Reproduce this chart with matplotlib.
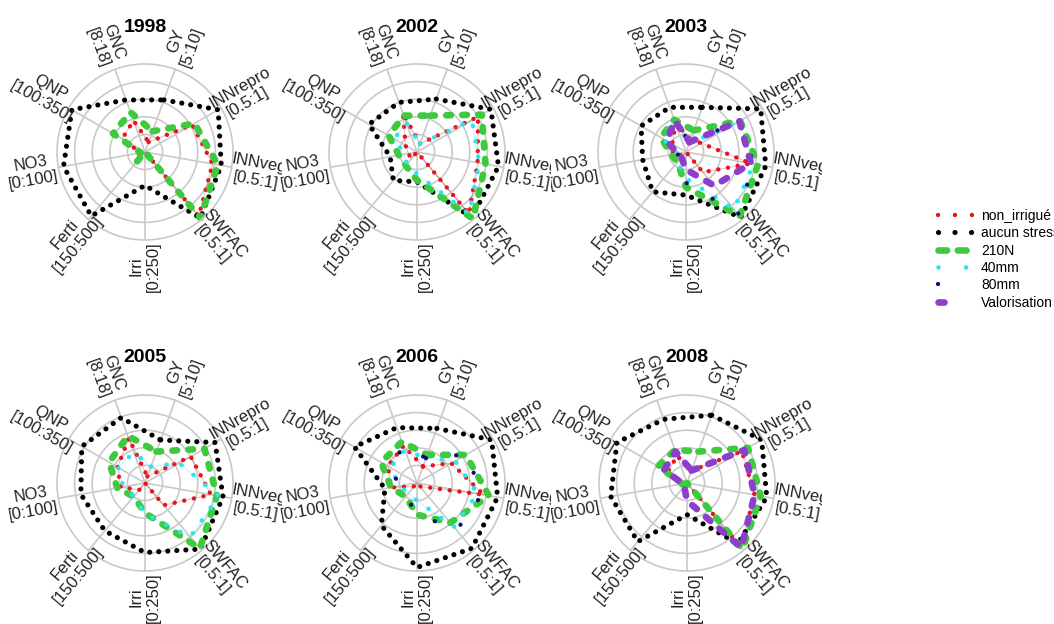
import numpy as np
import matplotlib.pyplot as plt
from matplotlib.lines import Line2D
from matplotlib.transforms import Bbox, TransformedBbox

plt.rcParams['font.family'] = ['Liberation Sans', 'DejaVu Sans']

# axes of the radar (clockwise, first one at 70 deg)
axes_names = ['GY', 'INNrepro', 'INNveg', 'SWFAC', 'Irri', 'Ferti', 'NO3', 'QNP', 'GNC']
axes_ranges = ['[5:10]', '[0.5:1]', '[0.5:1]', '[0.5:1]', '[0:250]', '[150:500]',
               '[0:100]', '[100:350]', '[8:18]']

years = [1998, 2002, 2003, 2005, 2006, 2008]

# values scaled 0-1 inside each range (0 = centre, 1 = outer circle)
non_irrigue = {
    1998: [0.12, 0.62, 0.78, 0.95, 0.00, 0.12, 0.05, 0.30, 0.38],
    2002: [0.10, 0.80, 0.70, 0.92, 0.00, 0.10, 0.10, 0.15, 0.47],
    2003: [0.15, 0.20, 0.75, 0.30, 0.00, 0.05, 0.15, 0.18, 0.35],
    2005: [0.08, 0.60, 0.76, 0.33, 0.00, 0.10, 0.28, 0.36, 0.54],
    2006: [0.20, 0.45, 0.77, 0.05, 0.00, 0.05, 0.30, 0.38, 0.45],
    2008: [0.15, 0.72, 0.78, 0.95, 0.00, 0.05, 0.05, 0.25, 0.33],
}
aucun_stress = {
    1998: [0.63, 0.96, 0.88, 0.98, 0.38, 0.95, 0.94, 0.96, 0.63],
    2002: [0.64, 0.97, 0.94, 0.97, 0.34, 0.42, 0.31, 0.63, 0.60],
    2003: [0.54, 0.98, 0.92, 0.97, 0.49, 0.59, 0.50, 0.59, 0.54],
    2005: [0.52, 0.92, 0.90, 0.98, 0.79, 0.71, 0.74, 0.83, 0.79],
    2006: [0.66, 0.98, 0.93, 0.97, 0.96, 0.63, 0.37, 0.82, 0.67],
    2008: [0.82, 0.98, 0.92, 0.90, 0.36, 0.87, 0.88, 0.92, 0.77],
}
n210 = {
    1998: [0.25, 0.65, 0.84, 0.98, 0.00, 0.16, 0.05, 0.42, 0.48],
    2002: [0.44, 0.85, 0.79, 0.99, 0.32, 0.20, 0.21, 0.37, 0.44],
    2003: [0.26, 0.71, 0.83, 0.95, 0.40, 0.15, 0.17, 0.33, 0.39],
    2005: [0.38, 0.78, 0.83, 0.97, 0.34, 0.20, 0.32, 0.47, 0.57],
    2006: [0.34, 0.64, 0.83, 0.59, 0.36, 0.20, 0.30, 0.47, 0.50],
    2008: [0.38, 0.80, 0.85, 0.98, 0.00, 0.10, 0.05, 0.38, 0.40],
}
mm40 = {
    2002: [0.10, 0.72, 0.72, 0.92, 0.25, 0.18, 0.15, 0.30, 0.35],
    2003: [0.10, 0.70, 0.78, 0.85, 0.30, 0.15, 0.10, 0.30, 0.40],
    2005: [0.20, 0.45, 0.85, 0.80, 0.35, 0.20, 0.25, 0.35, 0.37],
    2006: [0.30, 0.50, 0.70, 0.65, 0.20, 0.15, 0.20, 0.35, 0.40],
}
mm80 = {
    2003: [0.12, 0.70, 0.78, 0.92, 0.35, 0.10, 0.10, 0.28, 0.38],
    2006: [0.30, 0.65, 0.75, 0.70, 0.35, 0.20, 0.20, 0.35, 0.45],
}
valorisation = {
    2003: [0.12, 0.70, 0.75, 0.50, 0.20, 0.08, 0.10, 0.25, 0.38],
    2008: [0.15, 0.75, 0.78, 0.96, 0.20, 0.05, 0.05, 0.30, 0.38],
}

series = [
    ('non_irrigué', non_irrigue, '#e8141b', 3.2, (0, (0.01, 2.2)), True),
    ('aucun stress', aucun_stress, 'black', 3.7, (0, (0.01, 1.75)), False),
    ('210N', n210, '#3ec93e', 4.8, (0, (0.7, 1.7)), False),
    ('40mm', mm40, '#2de3ee', 3.3, (0, (0.01, 3.4)), True),
    ('80mm', mm80, '#0c0c78', 3.1, (0, (0.01, 7)), False),
    ('Valorisation', valorisation, '#8d3fcc', 4.8, (0, (0.9, 1.8)), False),
]

W, H = 1054, 624
R = 88
centres = {1998: (145, 152), 2002: (417, 152), 2003: (686, 152),
           2005: (145, 483), 2006: (417, 483), 2008: (687, 483)}
# horizontal extent of each panel (labels are clipped to it, like R's figure region)
columns = {1998: (-20, 282), 2005: (-20, 282), 2002: (280, 551), 2006: (280, 551),
           2003: (551, 822), 2008: (551, 822)}

fig = plt.figure(figsize=(W / 100, H / 100), dpi=100)

n = len(axes_names)
theta = np.arange(n) * 2 * np.pi / n
theta_c = np.append(theta, theta[0])

for year in years:
    cx, cy = centres[year]
    ax = fig.add_axes([(cx - R) / W, (H - cy - R) / H, 2 * R / W, 2 * R / H],
                      projection='polar')
    ax.set_facecolor('none')
    ax.set_theta_offset(np.deg2rad(70))
    ax.set_theta_direction(-1)
    ax.set_ylim(0, 1)
    ax.set_thetagrids(np.degrees(theta), labels=[''] * n)
    ax.set_rgrids([0.2, 0.4, 0.6, 0.8], labels=[''] * 4)
    ax.grid(True, color='#c9c9c9', lw=1.2)
    ax.set_axisbelow(True)
    ax.spines['polar'].set_color('#c9c9c9')
    ax.spines['polar'].set_linewidth(1.2)

    x0, x1 = columns[year]
    box = TransformedBbox(Bbox.from_extents(x0 / W, 0, x1 / W, 1), fig.transFigure)

    # axis labels, rotated along the spokes
    for i in range(n):
        ang = (70 - 40 * i + 180) % 360 - 180
        rot = ang + 180 if (ang > 90 or ang <= -90) else ang
        t = ax.text(theta[i], 1.3, axes_names[i] + '\n' + axes_ranges[i],
                    rotation=rot, rotation_mode='anchor', ha='center', va='center',
                    ma='center', fontsize=12, color='#222222', linespacing=1.18)
        t.set_clip_path(None)
        t.set_clip_box(box)
        t.set_clip_on(True)

    for name, data, col, lw, ls, thin in series:
        if year not in data:
            continue
        r = data[year] + [data[year][0]]
        if thin:
            ax.plot(theta_c, r, color=col, lw=0.7, alpha=0.3, clip_on=False)
        ax.plot(theta_c, r, color=col, lw=lw, linestyle=ls,
                dash_capstyle='round', clip_on=False)

    ax.text(0.5, 0.5 + 125 / (2 * R), str(year), transform=ax.transAxes,
            ha='center', va='center', fontsize=14, fontweight='bold')

# legend (samples drawn like the R legend)
handles = [
    Line2D([], [], color='#e8141b', lw=3.2, ls=(0, (0.01, 3.8)), dash_capstyle='round'),
    Line2D([], [], color='black', lw=3.7, ls=(0, (0.01, 3.2)), dash_capstyle='round'),
    Line2D([], [], color='#3ec93e', lw=4.8, ls=(0, (1.3, 1.6)), dash_capstyle='round'),
    Line2D([], [], color='#2de3ee', lw=3.3, ls=(0, (0.01, 6.0)), dash_capstyle='round'),
    Line2D([], [], color='#0c0c78', lw=3.1, ls=(0, (0.01, 20)), dash_capstyle='round'),
    Line2D([], [], color='#8d3fcc', lw=4.8, ls=(0, (0.9, 20)), dash_capstyle='round'),
]
fig.legend(handles, [s[0] for s in series], loc='upper left',
           bbox_to_anchor=(938 / W, 1 - 209 / H), frameon=False, fontsize=10,
           handlelength=2.5, handletextpad=0.6, labelspacing=0.24,
           borderaxespad=0, borderpad=0)

fig.savefig('out.png', dpi=100)
